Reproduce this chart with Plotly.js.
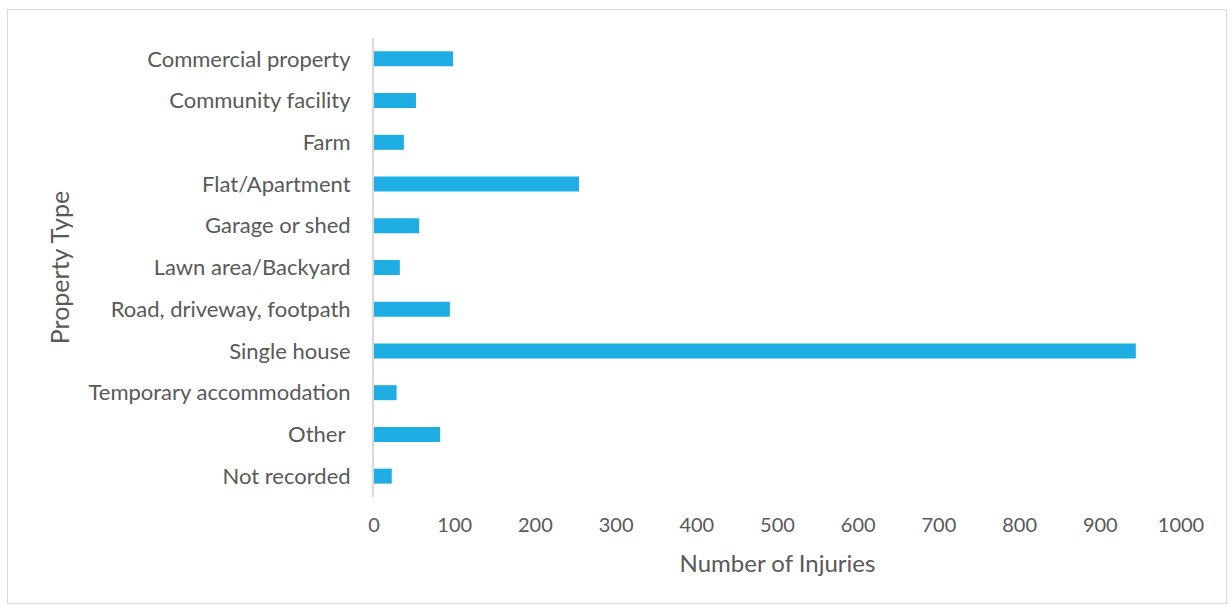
<!DOCTYPE html>
<html>
<head>
<meta charset="utf-8">
<script src="https://cdn.plot.ly/plotly-3.0.1.min.js"></script>
<style>
html,body{margin:0;padding:0;background:#fff;}
#wrap{position:relative;width:1230px;height:607px;}
#chart{width:1230px;height:607px;}
#frame{position:absolute;left:7px;top:9px;width:1218px;height:593px;border:1.5px solid #d9d9d9;pointer-events:none;}
</style>
</head>
<body>
<div id="wrap"><div id="chart"></div><div id="frame"></div></div>
<script>
const categories = ["Commercial property","Community facility","Farm","Flat/Apartment","Garage or shed","Lawn area/Backyard","Road, driveway, footpath","Single house","Temporary accommodation","Other ","Not recorded"];
const injuries = [98, 52, 37, 254, 56, 32, 94, 944, 28, 82, 22];
const xTicks = [0,100,200,300,400,500,600,700,800,900,1000];

const font = {family: "Lato, 'Open Sans', sans-serif", color: "#595959"};

Plotly.newPlot("chart", [{
  type: "bar",
  orientation: "h",
  x: injuries,
  y: categories,
  marker: {color: "#1eaee4"},
  hoverinfo: "x+y"
}], {
  width: 1230, height: 607,
  margin: {l: 374, r: 49, t: 38, b: 110, pad: 0},
  paper_bgcolor: "#fff", plot_bgcolor: "#fff",
  bargap: 0.64,
  showlegend: false,
  font: Object.assign({size: 19}, font),
  xaxis: {
    range: [0, 1000],
    tickvals: xTicks,
    ticktext: xTicks.map(String),
    showgrid: false, zeroline: false, showline: false,
    ticks: "", ticklabelstandoff: 14,
    tickfont: Object.assign({size: 20}, font),
    title: {text: "Number of Injuries", font: Object.assign({size: 24}, font), standoff: 20}
  },
  yaxis: {
    autorange: "reversed",
    showgrid: false, zeroline: false,
    showline: true, linecolor: "#d9d9d9", linewidth: 2,
    ticks: "", ticklabelstandoff: 17,
    tickfont: Object.assign({size: 22}, font),
    title: {text: "Property Type", font: Object.assign({size: 25}, font), standoff: 12}
  }
}, {displayModeBar: false});
</script>
</body>
</html>
